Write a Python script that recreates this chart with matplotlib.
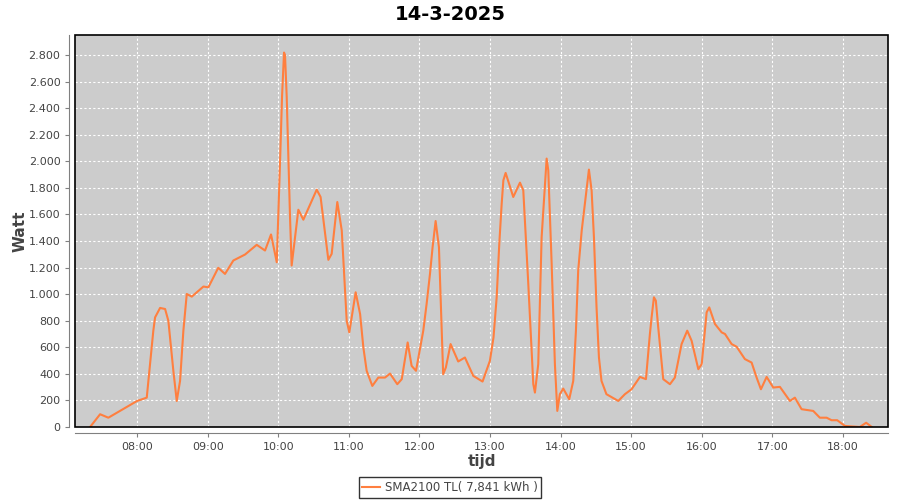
import matplotlib
matplotlib.use("Agg")
import matplotlib.pyplot as plt
from matplotlib.patches import Rectangle
from matplotlib.ticker import FuncFormatter

# time of day in decimal hours, power in Watt
hours = [7.334, 7.476, 7.593, 8.0, 8.137, 8.184, 8.23, 8.255, 8.326, 8.397,
         8.443, 8.467, 8.514, 8.562, 8.609, 8.656, 8.704, 8.775, 8.94, 9.01,
         9.15, 9.246, 9.364, 9.53, 9.695, 9.813, 9.898, 9.979, 10.0, 10.025,
         10.054, 10.082, 10.096, 10.12, 10.167, 10.19, 10.285, 10.356, 10.545, 10.6,
         10.71, 10.757, 10.837, 10.9, 10.97, 11.007, 11.097, 11.16, 11.206, 11.253,
         11.333, 11.418, 11.513, 11.584, 11.687, 11.75, 11.834, 11.89, 11.952, 12.055,
         12.102, 12.15, 12.187, 12.23, 12.277, 12.337, 12.375, 12.442, 12.55, 12.645,
         12.763, 12.895, 12.999, 13.05, 13.095, 13.132, 13.166, 13.19, 13.222, 13.33,
         13.425, 13.472, 13.543, 13.614, 13.637, 13.684, 13.732, 13.803, 13.826, 13.874,
         13.92, 13.954, 13.99, 14.038, 14.123, 14.18, 14.218, 14.25, 14.3, 14.345,
         14.402, 14.44, 14.473, 14.51, 14.544, 14.58, 14.65, 14.818, 14.912, 15.006,
         15.125, 15.21, 15.266, 15.29, 15.323, 15.35, 15.384, 15.455, 15.55, 15.62,
         15.715, 15.795, 15.857, 15.952, 16.0, 16.07, 16.107, 16.188, 16.283, 16.33,
         16.424, 16.495, 16.612, 16.707, 16.778, 16.839, 16.92, 17.014, 17.108, 17.25,
         17.32, 17.415, 17.58, 17.674, 17.77, 17.84, 17.92, 18.03, 18.24, 18.33, 18.41]
watt = [0, 96, 70, 196, 221, 473, 724, 825, 896, 888,
        800, 674, 423, 196, 347, 725, 1001, 981, 1057, 1051,
        1198, 1152, 1253, 1298, 1371, 1328, 1449, 1240, 1580, 1982,
        2486, 2818, 2800, 2486, 1580, 1215, 1635, 1560, 1786, 1731,
        1258, 1303, 1693, 1479, 800, 712, 1014, 850, 599, 423,
        309, 372, 372, 402, 322, 360, 636, 460, 423, 725,
        925, 1152, 1353, 1550, 1353, 397, 448, 624, 493, 523,
        385, 342, 498, 674, 976, 1379, 1681, 1857, 1912, 1731,
        1839, 1781, 1077, 322, 259, 473, 1429, 2020, 1932, 1228,
        473, 121, 247, 289, 209, 347, 725, 1177, 1479, 1681,
        1937, 1781, 1429, 900, 523, 347, 247, 196, 247, 284,
        377, 360, 700, 825, 976, 951, 750, 360, 322, 372,
        624, 725, 649, 435, 473, 863, 900, 775, 712, 700,
        624, 604, 511, 485, 372, 284, 377, 297, 302, 196,
        221, 134, 121, 70, 70, 51, 51, 8, 0, 32, 0]

tick_hours = list(range(8, 19))
tick_labels = [f"{h:02d}:00" for h in tick_hours]
y_ticks = list(range(0, 3000, 200))

fig = plt.figure(figsize=(9, 5), dpi=100)
ax = fig.add_axes([0.0833, 0.146, 0.9034, 0.784])
ax.set_facecolor("#cccccc")

ax.plot(hours, watt, color="#ff7f3f", linewidth=1.5, solid_joinstyle="round",
        label="SMA2100 TL( 7,841 kWh )")

ax.set_xlim(7.12, 18.64)
ax.set_ylim(0, 2950)
ax.set_xticks(tick_hours)
ax.set_xticklabels(tick_labels)
ax.set_yticks(y_ticks)
ax.yaxis.set_major_formatter(FuncFormatter(lambda v, p: f"{int(v):,}".replace(",", ".")))
ax.grid(True, color="white", linestyle=(0, (2, 2)), linewidth=0.8)
ax.set_axisbelow(True)

for s in ["top", "right"]:
    ax.spines[s].set_visible(False)
for s in ["left", "bottom"]:
    ax.spines[s].set_color("#808080")
    ax.spines[s].set_position(("outward", 4))
ax.add_patch(Rectangle((0, 0), 1, 1, transform=ax.transAxes, fill=False,
                       edgecolor="black", linewidth=1.2, zorder=5, clip_on=False))
ax.tick_params(colors="#808080", labelcolor="#444444", labelsize=8, length=3)

ax.set_ylabel("Watt", fontsize=11, fontweight="bold", color="#444444")
ax.yaxis.set_label_coords(-0.058, 0.5)
ax.set_xlabel("tijd", fontsize=11, fontweight="bold", color="#444444", labelpad=2)
fig.text(0.5, 0.97, "14-3-2025", ha="center", va="center", fontsize=14, fontweight="bold")

leg = fig.legend(loc="center", bbox_to_anchor=(0.5, 0.025), fontsize=8.5, frameon=True,
                 fancybox=False, handlelength=1.5, borderpad=0.3, handletextpad=0.4)
leg.get_frame().set_edgecolor("black")
leg.get_frame().set_linewidth(1.0)
for t in leg.get_texts():
    t.set_color("#444444")

fig.savefig("out.png", dpi=100)
